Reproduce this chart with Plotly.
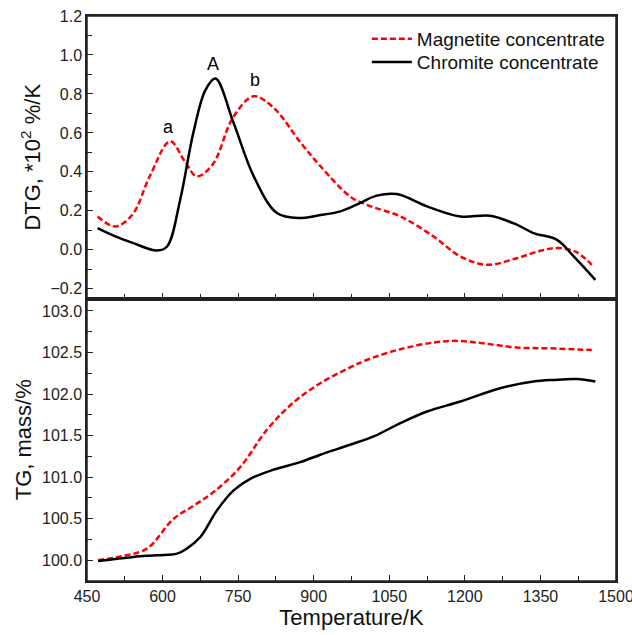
import plotly.graph_objects as go

# DTG (top panel)
dtg_mag_T = [471, 506, 540, 575, 615, 645, 668, 700, 740, 781, 820, 874, 913, 972, 1005, 1072, 1138, 1191, 1244, 1303, 1350, 1383, 1420, 1452]
dtg_mag_v = [0.171, 0.12, 0.18, 0.38, 0.557, 0.45, 0.377, 0.44, 0.68, 0.788, 0.73, 0.55, 0.43, 0.274, 0.231, 0.171, 0.068, -0.034, -0.077, -0.043, -0.005, 0.009, -0.01, -0.077]

dtg_chr_T = [471, 505, 542, 589, 609, 635, 661, 685, 705, 741, 781, 827, 873, 906, 953, 992, 1025, 1065, 1125, 1191, 1250, 1303, 1336, 1383, 1416, 1459]
dtg_chr_v = [0.111, 0.07, 0.034, -0.004, 0.017, 0.257, 0.6, 0.82, 0.879, 0.651, 0.377, 0.189, 0.163, 0.175, 0.197, 0.24, 0.278, 0.286, 0.223, 0.171, 0.175, 0.129, 0.086, 0.051, -0.034, -0.154]

# TG (bottom panel)
tg_mag_T = [472, 520, 569, 622, 660, 701, 754, 807, 860, 913, 972, 1005, 1072, 1138, 1184, 1237, 1303, 1369, 1452]
tg_mag_v = [100.0, 100.05, 100.14, 100.50, 100.65, 100.82, 101.12, 101.57, 101.9, 102.13, 102.32, 102.41, 102.54, 102.62, 102.64, 102.61, 102.56, 102.55, 102.53]

tg_chr_T = [472, 542, 589, 629, 648, 675, 708, 741, 774, 820, 873, 913, 972, 1019, 1072, 1125, 1191, 1270, 1336, 1376, 1422, 1459]
tg_chr_v = [99.99, 100.04, 100.06, 100.08, 100.14, 100.28, 100.60, 100.84, 100.98, 101.09, 101.18, 101.27, 101.39, 101.49, 101.65, 101.79, 101.91, 102.07, 102.15, 102.17, 102.18, 102.15]

peak_labels = ["a", "A", "b"]
peak_T = [611, 701, 784]
peak_v = [0.63, 0.955, 0.87]

RED = "#ff0000"
font_family = "Liberation Sans, Arial, sans-serif"

fig = go.Figure()
fig.add_trace(go.Scatter(x=dtg_mag_T, y=dtg_mag_v, mode="lines", name="Magnetite concentrate",
                         line=dict(color=RED, width=2.5, dash="6px,3px", shape="spline", smoothing=1.0),
                         xaxis="x2", yaxis="y2", legend="legend"))
fig.add_trace(go.Scatter(x=dtg_chr_T, y=dtg_chr_v, mode="lines", name="Chromite concentrate",
                         line=dict(color="black", width=2.5, shape="spline", smoothing=1.0),
                         xaxis="x2", yaxis="y2", legend="legend2"))
fig.add_trace(go.Scatter(x=tg_mag_T, y=tg_mag_v, mode="lines", showlegend=False,
                         line=dict(color=RED, width=2.5, dash="6px,3px", shape="spline", smoothing=1.0),
                         xaxis="x", yaxis="y"))
fig.add_trace(go.Scatter(x=tg_chr_T, y=tg_chr_v, mode="lines", showlegend=False,
                         line=dict(color="black", width=2.5, shape="spline", smoothing=1.0),
                         xaxis="x", yaxis="y"))

for lbl, t, v in zip(peak_labels, peak_T, peak_v):
    fig.add_annotation(x=t, y=v, text=lbl, xref="x2", yref="y2", showarrow=False,
                       font=dict(size=18, color="black", family=font_family))

# panel frames (paper-referenced so they are never clipped)
for y0, y1 in ((0.0, 0.5), (0.5, 1.0)):
    fig.add_shape(type="rect", xref="paper", yref="paper", x0=0, x1=1, y0=y0, y1=y1,
                  line=dict(color="#222", width=1.5), fillcolor="rgba(0,0,0,0)", layer="above")

axis_common = dict(showline=True, linecolor="#222", linewidth=1.5, mirror=True, showgrid=False,
                   zeroline=False, ticks="inside", ticklen=6, tickwidth=1.3, tickcolor="#222",
                   ticklabeloverflow="allow", automargin=False,
                   tickfont=dict(size=16, color="#222", family=font_family))
minor_common = dict(ticks="inside", ticklen=5, tickwidth=1.3, tickcolor="#222", showgrid=False)

legend_common = dict(xanchor="left", yanchor="top", bgcolor="rgba(0,0,0,0)",
                     font=dict(size=19, color="#111", family=font_family), itemwidth=40)

fig.update_layout(
    width=632, height=635,
    margin=dict(l=87, r=16, t=16, b=54, autoexpand=False),
    paper_bgcolor="white", plot_bgcolor="white",
    font=dict(family=font_family, color="#111"),
    xaxis=dict(domain=[0, 1], range=[450, 1500], tick0=450, dtick=150, anchor="y",
               minor=dict(dtick=75, tick0=450, **minor_common),
               title=dict(text="Temperature/K", font=dict(size=22, family=font_family), standoff=4),
               **axis_common),
    yaxis=dict(domain=[0, 0.5], range=[99.75, 103.15], tick0=100, dtick=0.5, tickformat=".1f", anchor="x",
               minor=dict(dtick=0.25, tick0=100, **minor_common),
               title=dict(text="TG, mass/%", font=dict(size=22, family=font_family), standoff=4),
               **axis_common),
    xaxis2=dict(domain=[0, 1], range=[450, 1500], tick0=450, dtick=150, anchor="y2", showticklabels=False,
                minor=dict(dtick=75, tick0=450, **minor_common),
                **axis_common),
    yaxis2=dict(domain=[0.5, 1], range=[-0.25, 1.2], tick0=0, dtick=0.2, tickformat=".1f", anchor="x2",
                minor=dict(dtick=0.1, tick0=0, **minor_common),
                title=dict(text="DTG, *10<sup>2</sup> %/K", font=dict(size=22, family=font_family), standoff=4),
                **axis_common),
    legend=dict(x=0.529, y=0.993, **legend_common),
    legend2=dict(x=0.529, y=0.952, **legend_common),
)

fig.write_html("out.html")
